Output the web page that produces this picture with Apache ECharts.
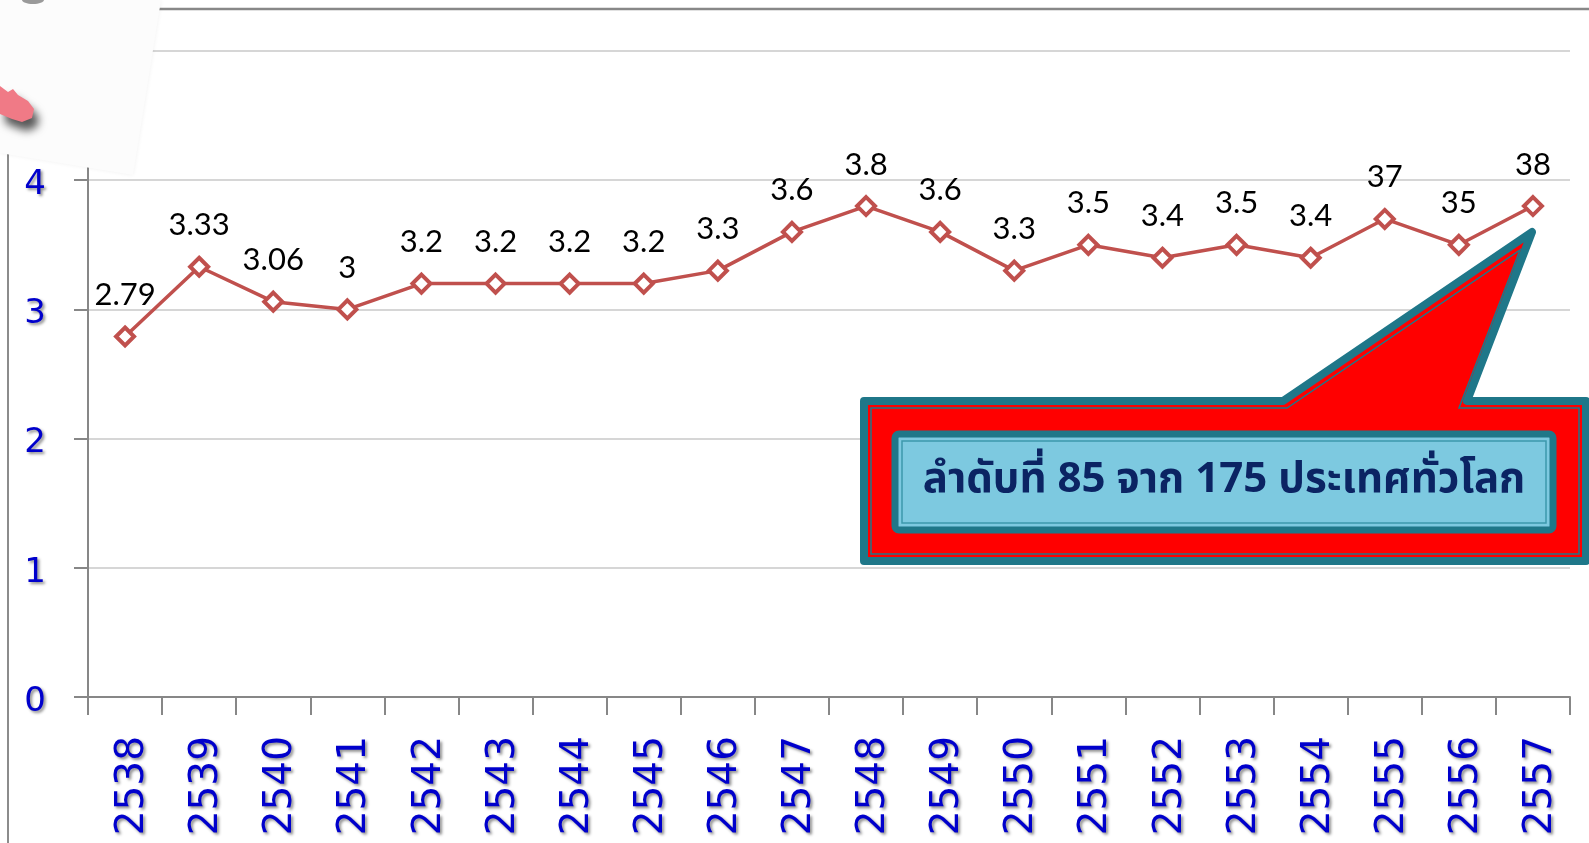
<!DOCTYPE html>
<html>
<head>
<meta charset="utf-8">
<script src="https://cdn.jsdelivr.net/npm/echarts@6/dist/echarts.min.js"></script>
<style>
html,body{margin:0;padding:0;background:#fff;}
#chart{width:1589px;height:843px;}
</style>
</head>
<body>
<div id="chart"></div>
<script>
const categories = ['2538','2539','2540','2541','2542','2543','2544','2545','2546','2547','2548','2549','2550','2551','2552','2553','2554','2555','2556','2557'];
const values = [2.79,3.33,3.06,3,3.2,3.2,3.2,3.2,3.3,3.6,3.8,3.6,3.3,3.5,3.4,3.5,3.4,3.7,3.5,3.8];
const pointLabels = ['2.79','3.33','3.06','3','3.2','3.2','3.2','3.2','3.3','3.6','3.8','3.6','3.3','3.5','3.4','3.5','3.4','37','35','38'];
const yMin = 0, yMax = 5, yStep = 1;
const calloutText = 'ลำดับที่ 85 จาก 175 ประเทศทั่วโลก';

const chart = echarts.init(document.getElementById('chart'));
const labelShadow = {textShadowColor:'rgba(0,0,0,0.45)',textShadowBlur:3,textShadowOffsetX:2,textShadowOffsetY:2};

chart.setOption({
  animation:false,
  backgroundColor:'#ffffff',
  grid:{left:88,right:19,top:51,bottom:146,containLabel:false},
  xAxis:{
    type:'category',data:categories,boundaryGap:true,
    axisLine:{lineStyle:{color:'#878787',width:2}},
    axisTick:{show:true,length:18,alignWithLabel:false,lineStyle:{color:'#878787',width:2}},
    axisLabel:Object.assign({rotate:90,margin:39,color:'#0000CC',fontFamily:'DejaVu Sans',fontSize:39,interval:0,
      verticalAlign:'top',lineHeight:16},labelShadow),
    splitLine:{show:false}
  },
  yAxis:{
    type:'value',min:yMin,max:yMax,interval:yStep,
    axisLine:{show:true,lineStyle:{color:'#878787',width:2}},
    axisTick:{show:true,length:14,lineStyle:{color:'#878787',width:2}},
    axisLabel:Object.assign({margin:42,color:'#0000CC',fontFamily:'DejaVu Sans',fontSize:34,verticalAlign:'top',lineHeight:10},labelShadow),
    splitLine:{show:true,lineStyle:{color:'#D6D6D6',width:2}}
  },
  series:[{
    type:'line',data:values,
    symbol:'diamond',symbolSize:18,
    lineStyle:{color:'#C0504D',width:3.5},
    itemStyle:{color:'#ffffff',borderColor:'#C0504D',borderWidth:4},
    label:{show:true,position:'top',distance:15,color:'#000',fontFamily:'Lato',fontSize:31,
      formatter:function(p){return pointLabels[p.dataIndex];}},
    z:3
  }],
  graphic:[
    {type:'line',z:1,shape:{x1:8,y1:9,x2:1589,y2:9},style:{stroke:'#888888',lineWidth:2.5}},
    {type:'line',z:1,shape:{x1:8,y1:9,x2:8,y2:843},style:{stroke:'#8c8c8c',lineWidth:2}},
    {type:'polygon',z:100,shape:{points:[[0,0],[161,0],[133,175],[0,153]]},
      style:{fill:'#FCFCFC',shadowColor:'rgba(0,0,0,0.06)',shadowBlur:4}},
    {type:'ellipse',z:101,shape:{cx:33,cy:0,rx:11,ry:4},style:{fill:'#9a9a9a'}},
    {type:'polygon',z:101,shape:{points:[[0,86],[8,92],[13,89],[18,95],[28,101],[34,109],[32,118],[22,122],[12,119],[0,114]]},
      style:{fill:'#F07A86',shadowColor:'rgba(0,0,0,0.65)',shadowBlur:8,shadowOffsetX:5,shadowOffsetY:9}},
    {type:'polygon',z:200,shape:{points:[[864,401],[1283,401],[1532,232],[1467,401],[1586,401],[1586,561],[864,561]]},
      style:{fill:'#FF0000',stroke:'#1F7789',lineWidth:8,lineJoin:'round'}},
    {type:'polygon',z:201,shape:{points:[[871,408],[1287,408],[1520,250],[1459,408],[1579,408],[1579,554],[871,554]]},
      style:{fill:'none',stroke:'#1F7789',lineWidth:1.5,lineJoin:'miter'}},
    {type:'rect',z:202,shape:{x:895,y:434,width:658,height:96,r:4},
      style:{fill:'#7DC9E0',stroke:'#1F7789',lineWidth:7}},
    {type:'rect',z:203,shape:{x:902,y:441,width:644,height:82},
      style:{fill:'none',stroke:'#3D98AC',lineWidth:1.5}},
    {type:'text',z:204,x:1224,y:484,
      style:{text:calloutText,fill:'#0B2463',font:'bold 42px "Noto Sans Thai", "Noto Serif Thai", Loma, Garuda, Norasi, "DejaVu Sans", sans-serif',
        align:'center',verticalAlign:'middle',textAlign:'center',textVerticalAlign:'middle'}}
  ]
});
</script>
</body>
</html>
